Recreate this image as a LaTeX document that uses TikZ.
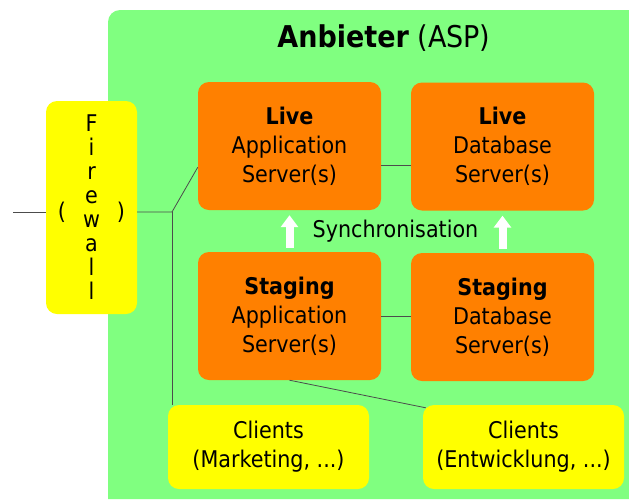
\documentclass[tikz,border=0pt]{standalone}
\usepackage{fontspec}
\setmainfont{DejaVu Sans Condensed}
\usetikzlibrary{arrows.meta}
\definecolor{aspgreen}{HTML}{80FF80}
\definecolor{asporange}{HTML}{FF8000}
\definecolor{aspyellow}{HTML}{FFFF00}
\newcommand{\serverNode}[4]{
  \node[server] (#1) at (#2) {\textbf{#3}\\#4\\Server(s)};
}

\begin{document}
\begin{tikzpicture}[x=1pt, y=-1pt,
  box/.style={rounded corners=11pt, align=center, inner sep=0pt, font=\fontsize{23}{29}\selectfont},
  server/.style={box, fill=asporange, minimum width=183pt, minimum height=128pt},
  client/.style={box, fill=aspyellow, minimum width=201pt, minimum height=84pt},
  link/.style={draw=black!70, line width=0.8pt},
  sync/.style={-{Triangle[width=17pt,length=12pt]}, white, line width=8pt}]
  \useasboundingbox (0,0) rectangle (629,499);
  % Anbieter area
  \fill[aspgreen] (108,499) [rounded corners=12pt] -- (108,10) [sharp corners] -- (629,10) -- (629,499) -- cycle;
  \node[font=\fontsize{30}{34}\selectfont] (title) at (384,38) {\textbf{Anbieter} (ASP)};

  % Firewall
  \node[box, fill=aspyellow, minimum width=91pt, minimum height=213pt,
    font=\fontsize{23}{24}\selectfont] (fw) at (91.5,207.5) {F\\i\\r\\e\\w\\a\\l\\l};
  \node[font=\fontsize{23}{24}\selectfont] (fwL) at (62,212) {(};
  \node[font=\fontsize{23}{24}\selectfont] (fwR) at (121,212) {)};
  \coordinate (wan) at (13,212);
  \coordinate (hub) at (172,212);

  % Server
  \serverNode{liveApp}{289.5,146}{Live}{Application}
  \serverNode{liveDb}{502.5,146.5}{Live}{Database}
  \serverNode{stagingApp}{289.5,316}{Staging}{Application}
  \serverNode{stagingDb}{502.5,317}{Staging}{Database}

  % Clients
  \node[client] (clientMkt) at (268.5,447) {Clients\\(Marketing, ...)};
  \node[client] (clientDev) at (523.5,447) {Clients\\(Entwicklung, ...)};

  % Verbindungen
  \draw[link] (wan) -- (wan -| fw.west);
  \draw[link] (fw.east |- hub) -- (hub) -- (liveApp.193);
  \draw[link] (hub) -- (hub |- clientMkt.north);
  \draw[link] (liveApp.-12) -- (liveApp.-12 -| liveDb.west);
  \draw[link] (stagingApp) -- (stagingDb);
  \draw[link] (stagingApp.south) -- ([shift={(3,3)}]clientDev.north west);

  % Synchronisation
  \draw[sync, shorten <=4pt, shorten >=5pt] (stagingApp) -- (liveApp);
  \draw[sync, shorten <=4pt, shorten >=5pt] (stagingDb) -- (liveDb);
  \node[font=\fontsize{23}{29}\selectfont] (syncLabel) at (395.5,231) {Synchronisation};
\end{tikzpicture}
\end{document}
